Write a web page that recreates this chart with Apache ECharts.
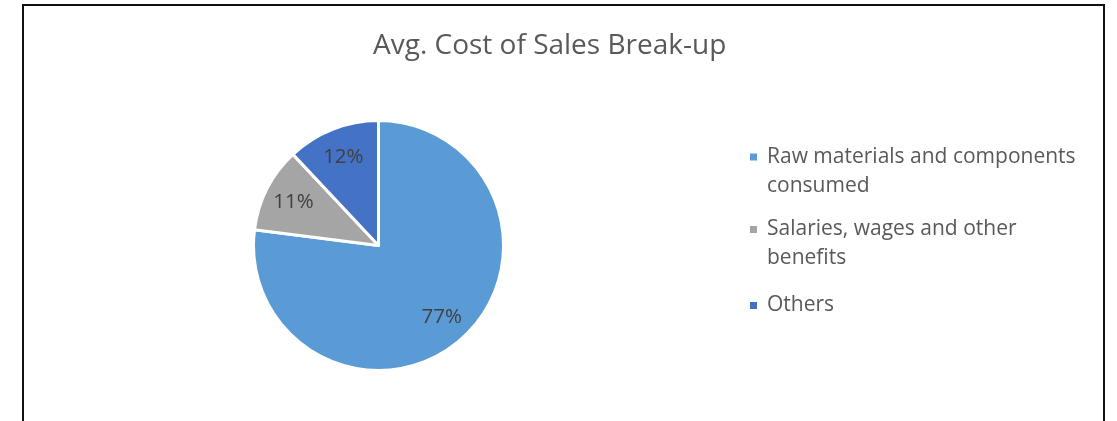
<!DOCTYPE html>
<html>
<head>
<meta charset="utf-8">
<script src="https://cdn.jsdelivr.net/npm/echarts@6/dist/echarts.min.js"></script>
<style>
  html, body { margin: 0; padding: 0; background: #fff; }
  #main { width: 1117px; height: 421px; }
  #frame {
    position: absolute; left: 22px; top: 4px; width: 1079px; height: 440px;
    border: 2px solid #111; pointer-events: none;
  }
</style>
</head>
<body>
<div id="main"></div>
<div id="frame"></div>
<script>
const categories = ['Raw materials and components consumed', 'Salaries, wages and other benefits', 'Others'];
const legendLines = [
  ['Raw materials and components', 'consumed'],
  ['Salaries, wages and other', 'benefits'],
  ['Others']
];
const shares = [77, 11, 12];
const colors = ['#5B9BD5', '#A5A5A5', '#4472C4'];
const legendTops = [113.5, 186, 291];

const FONT = '"Open Sans", sans-serif';

const dom = document.getElementById('main');
const myChart = echarts.init(dom);

const pieData = categories.map((name, i) => ({ name: name, value: shares[i] }));

// one legend per entry so the wrapped ones can hang below their marker
const legends = categories.map((name, i) => ({
  data: [name],
  orient: 'vertical',
  left: 748,
  top: legendTops[i],
  padding: 0,
  icon: 'rect',
  itemWidth: 9,
  itemHeight: 9,
  formatter: (n) => {
    const lines = legendLines[categories.indexOf(n)];
    // blank first line keeps line 1 level with the marker
    return lines.length > 1 ? '\n' + lines.join('\n') : lines[0];
  },
  textStyle: {
    fontFamily: FONT,
    fontSize: 21,
    color: '#595959',
    lineHeight: 29,
    padding: [0, 0, 0, 4]
  }
}));

let option = {
  color: colors,
  animation: false,
  title: {
    text: 'Avg. Cost of Sales Break-up',
    left: 368,
    top: 27,
    textStyle: { fontFamily: FONT, fontSize: 28, fontWeight: 'normal', color: '#595959' }
  },
  legend: legends,
  series: [
    {
      type: 'pie',
      center: [378.5, 245.5],
      radius: 125,
      startAngle: 90,
      clockwise: true,
      data: pieData,
      label: { show: false },
      labelLine: { show: false },
      itemStyle: { borderColor: '#fff', borderWidth: 3 },
      emphasis: { disabled: true }
    },
    {
      // label carrier: puts the percentages at ~3/4 of the radius, like Excel
      type: 'pie',
      center: [378.5, 245.5],
      radius: [60, 125],
      startAngle: 90,
      clockwise: true,
      silent: true,
      data: pieData,
      itemStyle: { color: 'rgba(0,0,0,0)' },
      label: {
        show: true,
        position: 'inside',
        formatter: '{d}%',
        fontFamily: FONT,
        fontSize: 20.5,
        color: '#404040'
      },
      labelLine: { show: false },
      emphasis: { disabled: true }
    }
  ]
};

option && myChart.setOption(option);

window.addEventListener('resize', myChart.resize);
</script>
</body>
</html>
